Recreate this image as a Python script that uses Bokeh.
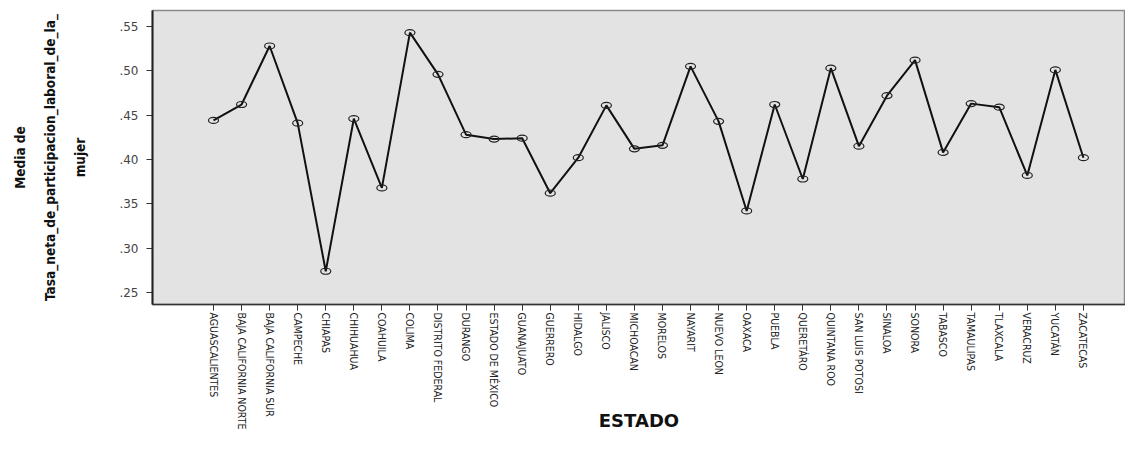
import math
from bokeh.plotting import figure
from bokeh.models import Range1d, FixedTicker, CustomJSTickFormatter, ColumnDataSource
from bokeh.embed import file_html
from bokeh.resources import INLINE

states = ["AGUASCALIENTES", "BAJA CALIFORNIA NORTE", "BAJA CALIFORNIA SUR", "CAMPECHE",
          "CHIAPAS", "CHIHUAHUA", "COAHUILA", "COLIMA", "DISTRITO FEDERAL", "DURANGO",
          "ESTADO DE MÉXICO", "GUANAJUATO", "GUERRERO", "HIDALGO", "JALISCO", "MICHOACAN",
          "MORELOS", "NAYARIT", "NUEVO LEON", "OAXACA", "PUEBLA", "QUERETÁRO",
          "QUINTANA ROO", "SAN LUIS POTOSI", "SINALOA", "SONORA", "TABASCO", "TAMAULIPAS",
          "TLAXCALA", "VERACRUZ", "YUCATÁN", "ZACATECAS"]

media = [0.444, 0.462, 0.528, 0.441, 0.274, 0.446, 0.368, 0.543, 0.496, 0.428,
         0.423, 0.424, 0.362, 0.402, 0.461, 0.412, 0.416, 0.505, 0.443, 0.342,
         0.462, 0.378, 0.503, 0.415, 0.472, 0.512, 0.408, 0.463, 0.459, 0.382,
         0.501, 0.402]

y_ticks = [0.25, 0.30, 0.35, 0.40, 0.45, 0.50, 0.55]

NARROW = "DejaVu Sans Condensed, Liberation Sans, sans-serif"

idx = list(range(len(states)))
src = ColumnDataSource(dict(x=idx, y=media, name=states))

p = figure(width=1125, height=434, output_backend="svg", toolbar_location=None,
           x_range=Range1d(-2.174, 32.50), y_range=Range1d(0.2365, 0.568),
           min_border_left=152, min_border_top=10, min_border_bottom=130, min_border_right=0)

p.background_fill_color = "#e3e3e3"
p.border_fill_color = "white"
p.outline_line_color = "#8a8a8a"
p.outline_line_width = 1.5
p.xgrid.visible = False
p.ygrid.visible = False

p.line("x", "y", source=src, line_width=2, line_color="#111111")
p.ellipse("x", "y", source=src, width=10, height=6, width_units="screen", height_units="screen",
          fill_alpha=0, line_color="#222222", line_width=1.2)

# x axis
xa = p.xaxis[0]
xa.ticker = FixedTicker(ticks=idx)
xa.major_label_overrides = {i: s for i, s in zip(idx, states)}
xa.major_label_orientation = -math.pi / 2
xa.major_label_text_font = NARROW
xa.major_label_text_font_size = "10.5px"
xa.major_label_text_color = "#222222"
xa.major_label_standoff = 2
xa.major_tick_out = 6
xa.major_tick_in = 0
xa.minor_tick_line_color = None
xa.axis_line_color = "#333333"
xa.axis_line_width = 1.5
xa.major_tick_line_color = "#333333"
xa.axis_label = "ESTADO"
xa.axis_label_text_font = "DejaVu Sans"
xa.axis_label_text_font_style = "bold"
xa.axis_label_text_font_size = "18px"
xa.axis_label_text_color = "#111111"
xa.axis_label_standoff = -22

# y axis
ya = p.yaxis[0]
ya.ticker = FixedTicker(ticks=y_ticks)
ya.formatter = CustomJSTickFormatter(code="return tick.toFixed(2).replace(/^0/, '');")
ya.major_label_text_font = "DejaVu Sans"
ya.major_label_text_font_size = "12px"
ya.major_label_text_color = "#444444"
ya.major_label_standoff = 8
ya.major_tick_out = 6
ya.major_tick_in = 0
ya.minor_tick_line_color = None
ya.axis_line_color = "#222222"
ya.axis_line_width = 2
ya.major_tick_line_color = "#333333"
ya.axis_label = "Media de\nTasa_neta_de_participacion_laboral_de_la_\nmujer"
ya.axis_label_text_font = NARROW
ya.axis_label_text_font_style = "bold"
ya.axis_label_text_font_size = "13.5px"
ya.axis_label_text_color = "#111111"
ya.axis_label_standoff = 28
ya.axis_label_text_line_height = 1.9

open("out.html", "w").write(file_html(p, INLINE))
